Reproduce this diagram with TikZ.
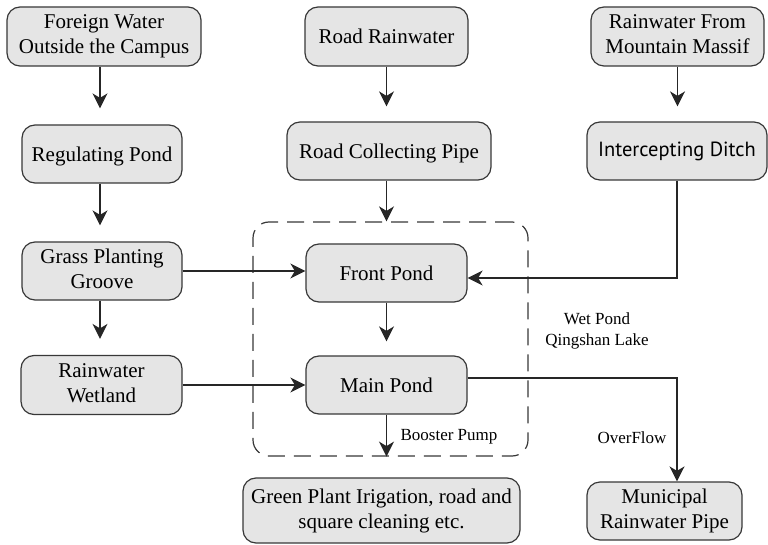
\documentclass[tikz,border=0pt]{standalone}
\usepackage{fontspec}
\usepackage{graphicx}
\setmainfont{Liberation Serif}
\newfontfamily\serifbox{Liberation Serif}
\newfontfamily\ditchfont{PT Sans}
\usetikzlibrary{arrows.meta}
\definecolor{boxfill}{gray}{0.90}
\definecolor{boxline}{gray}{0.22}
% box captions: set at 17pt and enlarged to about 21pt
\newcommand{\flowtext}[1]{\scalebox{1.2353}{\begin{tabular}{@{}c@{}}#1\end{tabular}}}
% one-line captions sit slightly lower in their boxes
\newcommand{\flowline}[1]{\raisebox{-2.5pt}[\height][\depth]{\flowtext{#1}}}
\begin{document}
\begin{tikzpicture}[x=1pt,y=-1pt,
  flowbox/.style={draw=boxline,fill=boxfill,line width=1.2pt,rounded corners=13pt,
    align=center,inner sep=0pt,font=\serifbox\fontsize{17pt}{20.24pt}\selectfont},
  flow/.style={draw=black!85,line width=1.7pt,-{Stealth[length=15pt,width=15pt,inset=4.5pt]}},
  gapflow/.style={flow,shorten >=16pt},
  note/.style={font=\serifbox\fontsize{17pt}{20.5pt}\selectfont,align=center,inner sep=0pt}]
\useasboundingbox (0,0) rectangle (768,545);

% left column
\node[flowbox,minimum width=194pt,minimum height=59pt] (fw) at (104,36.5) {\flowtext{Foreign Water\\Outside the Campus}};
\node[flowbox,minimum width=160pt,minimum height=58pt] (rp) at (102,154) {\flowline{Regulating Pond}};
\node[flowbox,minimum width=160pt,minimum height=58pt] (gp) at (102,271) {\flowtext{Grass Planting\\Groove}};
\node[flowbox,minimum width=161pt,minimum height=59pt] (rw) at (101.5,385) {\flowtext{Rainwater\\Wetland}};

% middle column
\node[flowbox,minimum width=163pt,minimum height=59pt] (rr) at (386.5,36.5) {\flowline{Road Rainwater}};
\node[flowbox,minimum width=204pt,minimum height=58pt] (rcp) at (389,151) {\flowline{Road Collecting Pipe}};
\node[draw=boxline,dash pattern=on 17pt off 9pt,line width=1.2pt,rounded corners=16pt,
  minimum width=275pt,minimum height=234pt,inner sep=0pt] (wet) at (390.5,339) {};
\node[flowbox,minimum width=161pt,minimum height=58pt] (fp) at (386.5,273) {\flowline{Front Pond}};
\node[flowbox,minimum width=161pt,minimum height=58pt] (mp) at (386.5,385) {\flowline{Main Pond}};
\node[flowbox,minimum width=277pt,minimum height=65pt] (gpi) at (381.5,510.5) {\flowtext{Green Plant Irigation, road and\\square cleaning etc.}};

% right column
\node[flowbox,minimum width=173pt,minimum height=59pt] (rm) at (677.5,36.5) {\flowtext{Rainwater From\\Mountain Massif}};
\node[flowbox,minimum width=180pt,minimum height=58pt,font=\ditchfont\fontsize{20.5pt}{24pt}\selectfont] (id) at (677,151) {Intercepting Ditch};
\node[flowbox,minimum width=155pt,minimum height=58pt] (mrp) at (664.5,511) {\flowtext{Municipal\\Rainwater Pipe}};

% labels
\node[note] (wetlbl) at (597,331) {Wet Pond\\Qingshan Lake};
\node[note] (pump) at (449,437) {Booster Pump};
\node[note] (over) at (632,438) {OverFlow};

% connectors
\draw[gapflow] (fw.south -| 100,0) -- (rp.north -| 100,0);
\draw[gapflow] (rp.south -| 100,0) -- (gp.north -| 100,0);
\draw[gapflow] (gp.south -| 100,0) -- (rw.north -| 100,0);
\draw[gapflow,shorten >=15pt] (rr.south) -- (rr.south |- rcp.north);
\draw[gapflow,shorten >=15pt] (rm.south) -- (rm.south |- id.north);
\draw[flow] (fp.north |- rcp.south) -- (fp.north |- wet.north);
\draw[flow,shorten >=14pt] (fp.south) -- (mp.north);
\draw[flow] (gp.east) -- (gp.east -| fp.west);
\draw[flow] (rw.east) -- (rw.east -| mp.west);
\draw[flow] (id.south) |- ([yshift=-5pt]fp.east);
\draw[flow] ([yshift=7pt]mp.east) -| ([xshift=12.5pt]mrp.north);
\draw[flow] (mp.south) -- (mp.south |- wet.south);
\end{tikzpicture}
\end{document}
